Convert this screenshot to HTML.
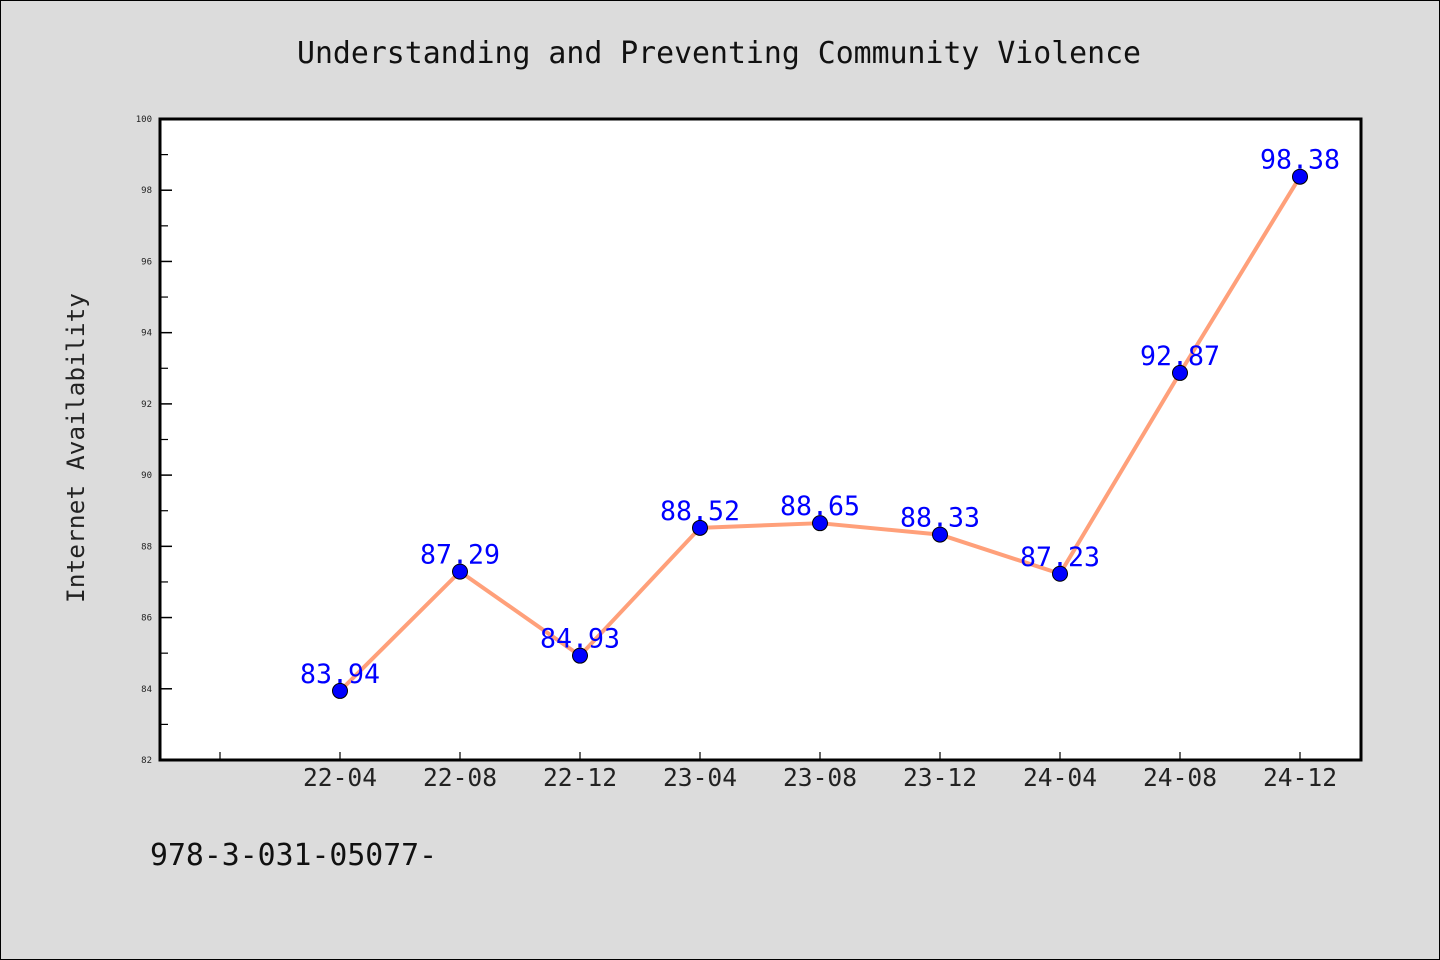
<!DOCTYPE html>
<html><head><meta charset="utf-8"><style>
html,body{margin:0;padding:0;background:#dcdcdc;}
svg{display:block;font-family:"WenQuanYi Zen Hei Mono","WenQuanYi Zen Hei","DejaVu Sans Mono",monospace;}
</style></head><body>
<svg id="chart" width="1440" height="960" viewBox="0 0 1440 960" xmlns="http://www.w3.org/2000/svg">
<rect x="0.5" y="0.5" width="1439" height="959" fill="#dcdcdc" stroke="#000" stroke-width="1"/>
<text x="719" y="63" font-size="30" text-anchor="middle" textLength="844" lengthAdjust="spacingAndGlyphs" fill="#111">Understanding and Preventing Community Violence</text>
<rect x="160" y="119" width="1201" height="641" fill="#fff" stroke="#000" stroke-width="3"/>
<g id="yticks"></g>
<g id="xticks"></g>
<text transform="translate(84,448) rotate(-90)" font-size="24" text-anchor="middle" textLength="310" lengthAdjust="spacingAndGlyphs" fill="#222">Internet Availability</text>
<g id="series"></g>
<text x="150" y="865" font-size="30" textLength="287" lengthAdjust="spacingAndGlyphs" fill="#111">978-3-031-05077-</text>
</svg>
<script>
const categories = ["22-04","22-08","22-12","23-04","23-08","23-12","24-04","24-08","24-12"];
const values = [83.94,87.29,84.93,88.52,88.65,88.33,87.23,92.87,98.38];
const yTickLabels = ["82","84","86","88","90","92","94","96","98","100"];
const NS="http://www.w3.org/2000/svg";
const yMin=82,yMax=100,plotTop=119,plotBot=760,plotLeft=160;
function yScale(v){return plotBot-(v-yMin)/(yMax-yMin)*(plotBot-plotTop);}
function xScale(i){return plotLeft+120*(i+1.5);}
function mk(tag,attrs,parent){const e=document.createElementNS(NS,tag);for(const k in attrs)e.setAttribute(k,attrs[k]);parent.appendChild(e);return e;}
const yg=document.getElementById('yticks');
yTickLabels.forEach((t,i)=>{
  const v=+t,yy=yScale(v);
  const l=mk('line',{x1:plotLeft,x2:plotLeft+12,y1:yy,y2:yy,stroke:'#000','stroke-width':1.5},yg);
  
  
  const tx=mk('text',{x:152,y:yy+3,'font-size':9,'text-anchor':'end',fill:'#222'},yg);
  
  
  tx.textContent=t;
  if(i<yTickLabels.length-1){
    const ym=yScale(v+1);
    const m=mk('line',{x1:plotLeft,x2:plotLeft+8,y1:ym,y2:ym,stroke:'#000','stroke-width':1.2},yg);
    
    
  }
});
const xg=document.getElementById('xticks');
const t0=mk('line',{x1:xScale(-1),x2:xScale(-1),y1:plotBot,y2:plotBot-8,stroke:'#000','stroke-width':1.2},xg);


categories.forEach((c,i)=>{
  const l=mk('line',{x1:xScale(i),x2:xScale(i),y1:plotBot,y2:plotBot-8,stroke:'#000','stroke-width':1.2},xg);
  
  
  const tx=mk('text',{x:xScale(i),y:786,'font-size':25,'text-anchor':'middle',textLength:74,lengthAdjust:'spacingAndGlyphs',fill:'#222'},xg);
  
  
  tx.textContent=c;
});
const sg=document.getElementById('series');
const pl=mk('polyline',{points:values.map((v,i)=>xScale(i)+','+yScale(v)).join(' '),fill:'none',stroke:'#ffa07a','stroke-width':4,'stroke-linejoin':'round'},sg);


values.forEach((v,i)=>{
  const c=mk('circle',{cx:xScale(i),cy:yScale(v),r:7.5,fill:'#0000ff',stroke:'#000','stroke-width':1},sg);
  
  
});
values.forEach((v,i)=>{
  const t=mk('text',{x:xScale(i),y:yScale(v)-8,'font-size':27,'text-anchor':'middle',textLength:80,lengthAdjust:'spacingAndGlyphs',fill:'#0000ff'},sg);
  
  
  t.textContent=v.toFixed(2);
});
</script>
</body></html>
